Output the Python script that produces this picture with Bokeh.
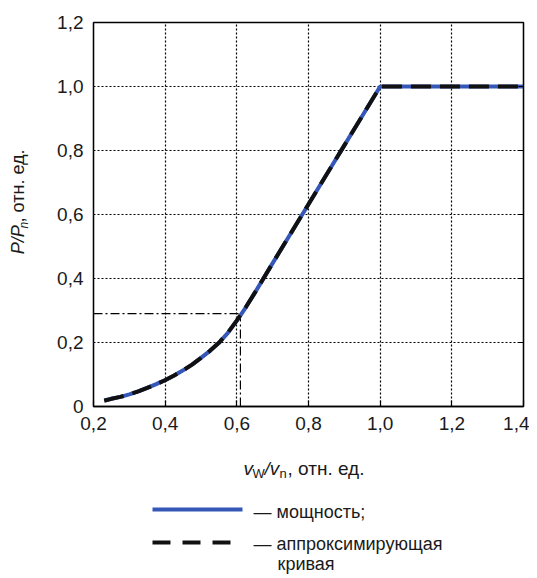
import math
from bokeh.plotting import figure
from bokeh.layouts import column, row
from bokeh.models import Range1d, FixedTicker, CustomJSTickFormatter, LinearAxis
from bokeh.core.properties import value
from bokeh.embed import file_html
from bokeh.resources import INLINE

# ---- data ----
wind_ratio = [0.23, 0.25, 0.275, 0.30, 0.325, 0.35, 0.375, 0.40, 0.425, 0.45, 0.475,
              0.50, 0.525, 0.55, 0.575, 0.60, 0.625, 0.65, 0.70, 0.75, 0.80, 0.85, 0.90,
              0.95, 1.00, 1.40]
power_ratio = [0.019, 0.024, 0.030, 0.038, 0.047, 0.058, 0.070, 0.083, 0.097, 0.113, 0.131,
               0.152, 0.174, 0.199, 0.230, 0.268, 0.310, 0.355, 0.448, 0.540, 0.632, 0.724,
               0.816, 0.908, 1.000, 1.000]
approx_ratio = [0.018, 0.024, 0.030, 0.038, 0.047, 0.058, 0.070, 0.082, 0.097, 0.113, 0.131,
                0.152, 0.174, 0.199, 0.231, 0.269, 0.310, 0.355, 0.448, 0.540, 0.632, 0.724,
                0.816, 0.908, 1.000, 1.000]
ref_x = 0.61
ref_y = 0.29
x_ticks = [0.2, 0.4, 0.6, 0.8, 1.0, 1.2, 1.4]
y_ticks = [0.0, 0.2, 0.4, 0.6, 0.8, 1.0, 1.2]
legend_labels = ["— мощность;", "— аппроксимирующая", "кривая"]

FONT = "Liberation Sans"
FS = "18px"
BLUE = "#3558b8"
TXT = "#1a1a1a"

MAIN_H = 436
TOTAL_H = 576
# ---------------- main chart ----------------
p = figure(width=489, height=MAIN_H, output_backend="svg", toolbar_location=None,
           x_range=Range1d(x_ticks[0], x_ticks[-1]), y_range=Range1d(y_ticks[0], y_ticks[-1]),
           min_border_left=53, min_border_right=6, min_border_top=22,
           min_border_bottom=MAIN_H - 22 - 384)
p.outline_line_color = "black"
p.outline_line_width = 1.3

fmt = CustomJSTickFormatter(code="return tick == 0 ? '0' : tick.toFixed(1).replace('.', ',');")

xaxis = p.xaxis[0]
xaxis.ticker = FixedTicker(ticks=x_ticks)
xaxis.formatter = fmt
xaxis.major_tick_in = 6
xaxis.major_tick_out = 0
xaxis.major_label_standoff = 10

yaxis = p.yaxis[0]
yaxis.ticker = FixedTicker(ticks=y_ticks)
yaxis.formatter = fmt
yaxis.major_tick_in = 0
yaxis.major_tick_out = 0
yaxis.major_label_standoff = 10

raxis = LinearAxis(ticker=FixedTicker(ticks=y_ticks))
raxis.major_tick_in = 5
raxis.major_tick_out = 0
raxis.major_label_text_color = None
raxis.major_label_text_font_size = "1px"
raxis.major_label_standoff = 0
p.add_layout(raxis, "right")

for ax in (xaxis, yaxis, raxis):
    ax.axis_line_color = "black"
    ax.axis_line_width = 1.3
    ax.major_tick_line_color = "black"
    ax.major_tick_line_width = 1.2
    ax.minor_tick_line_color = None
for ax in (xaxis, yaxis):
    ax.major_label_text_font = FONT
    ax.major_label_text_font_size = "19px"
    ax.major_label_text_color = TXT

for g, t in ((p.xgrid[0], x_ticks), (p.ygrid[0], y_ticks)):
    g.ticker = FixedTicker(ticks=t)
    g.grid_line_color = "black"
    g.grid_line_dash = "2 2"
    g.grid_line_width = 1.2

# reference dash-dot lines
p.line([x_ticks[0], ref_x], [ref_y, ref_y], line_color="black", line_width=1.2,
       line_dash="9 3 2 3")
p.line([ref_x, ref_x], [y_ticks[0], ref_y], line_color="black", line_width=1.2,
       line_dash="9 3 2 3")

# curves
p.line(wind_ratio, power_ratio, line_color=BLUE, line_width=4)
p.line(wind_ratio, approx_ratio, line_color="#111111", line_width=4, line_dash="20 9")

# ---------------- y-axis title panel ----------------
ylab = figure(width=40, height=MAIN_H, output_backend="svg", toolbar_location=None,
              x_range=Range1d(0, 40), y_range=Range1d(MAIN_H, 0),
              min_border=0, x_axis_type=None, y_axis_type=None)
ylab.outline_line_color = None
ylab.grid.visible = False


def txt(fig, x, y, t, size=FS, style="normal", angle=0.0):
    fig.text(x=[x], y=[y], text=[t], text_font=value(FONT), text_font_size=size,
             text_font_style=style, text_color=TXT, angle=angle,
             text_align="left", text_baseline="middle")


yc, y0 = 17, 263
txt(ylab, yc, y0, "P/P", style="italic", angle=math.pi / 2)
txt(ylab, yc + 6, y0 - 29, "n", size="12px", style="italic", angle=math.pi / 2)
txt(ylab, yc, y0 - 36, ", отн. ед.", angle=math.pi / 2)

# ---------------- bottom panel: x title + legend ----------------
BOT_H = TOTAL_H - MAIN_H
bot = figure(width=529, height=BOT_H, output_backend="svg", toolbar_location=None,
             x_range=Range1d(0, 529), y_range=Range1d(BOT_H, 0),
             min_border=0, x_axis_type=None, y_axis_type=None)
bot.outline_line_color = None
bot.grid.visible = False

off = MAIN_H
xs, yb = 243, 468 - off
txt(bot, xs, yb, "v", size="19px", style="italic")
txt(bot, xs + 9, yb + 5, "W", size="13px")
txt(bot, xs + 21, yb, "/v", size="19px", style="italic")
txt(bot, xs + 36, yb + 5, "n", size="13px")
txt(bot, xs + 44, yb, ", отн. ед.", size="19px")

bot.line([152, 242], [509 - off, 509 - off], line_color=BLUE, line_width=4)
bot.line([152, 230], [542 - off, 542 - off], line_color="#111111", line_width=4,
         line_dash="18 12")
txt(bot, 253, 511 - off, legend_labels[0])
txt(bot, 253, 543 - off, legend_labels[1])
txt(bot, 277, 563 - off, legend_labels[2])

layout = column(row(ylab, p), bot)
open("out.html", "w").write(file_html(layout, INLINE))
